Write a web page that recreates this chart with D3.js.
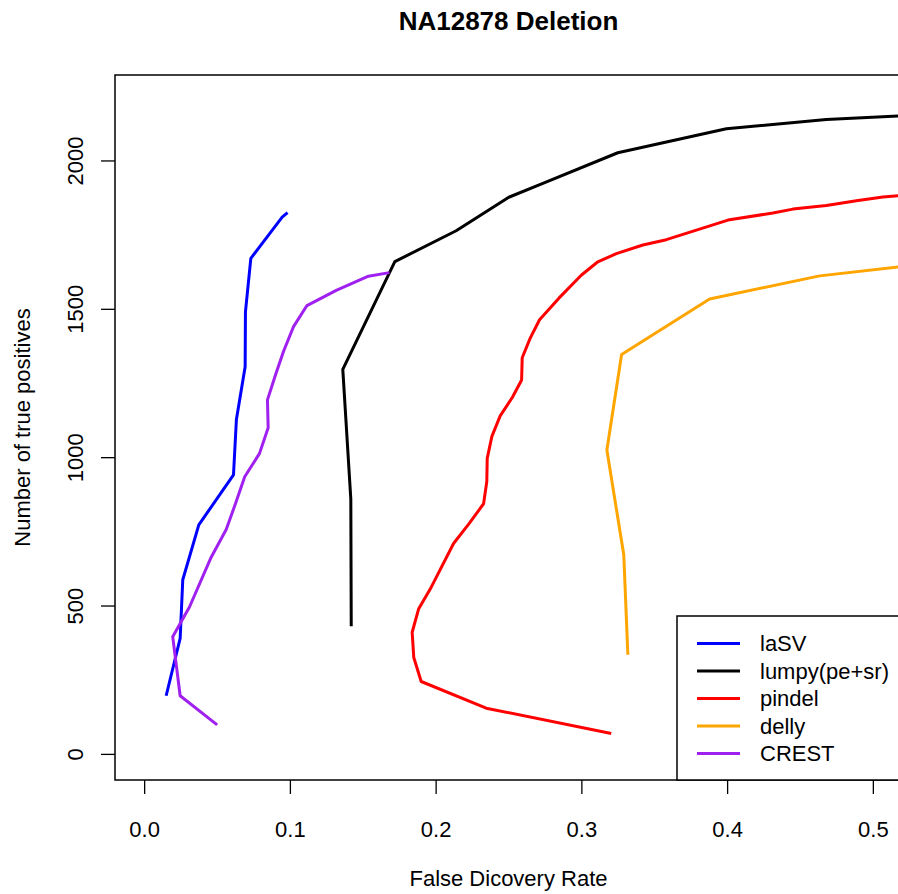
<!DOCTYPE html>
<html>
<head>
<meta charset="utf-8">
<script src="https://cdn.jsdelivr.net/npm/d3@7"></script>
<style>
  html, body { margin: 0; padding: 0; background: #fff; overflow: hidden; }
  text { font-family: "Liberation Sans", Arial, Helvetica, sans-serif; fill: #000; }
</style>
</head>
<body>
<div id="chart"></div>
<script>
// series: false discovery rate (x) vs number of true positives (y)
var laSV_fdr = [0.0151, 0.0247, 0.0265, 0.0375, 0.0613, 0.0633, 0.0693, 0.0695, 0.0732, 0.0947, 0.0984];
var laSV_tp = [196, 389, 587, 772, 940, 1127, 1305, 1490, 1670, 1809, 1824];

var lumpy_fdr = [0.1421, 0.1418, 0.1363, 0.172, 0.2141, 0.2502, 0.2736, 0.325, 0.3995, 0.4681, 0.525];
var lumpy_tp = [430, 859, 1296, 1659, 1763, 1876, 1923, 2026, 2107, 2138, 2152];

var pindel_fdr = [0.3205, 0.2347, 0.1901, 0.185, 0.1839, 0.1883, 0.197, 0.2123, 0.2228, 0.2329, 0.2351,
    0.2354, 0.2386, 0.2443, 0.2526, 0.259, 0.2594, 0.2649, 0.2713, 0.2846, 0.2999, 0.3109, 0.324,
    0.3422, 0.3583, 0.4006, 0.4314, 0.4452, 0.4681, 0.4887, 0.5069, 0.525];
var pindel_tp = [69, 154, 244, 325, 410, 488, 562, 709, 775, 843, 917,
    996, 1070, 1139, 1201, 1260, 1335, 1401, 1463, 1536, 1613, 1657, 1686,
    1715, 1733, 1799, 1823, 1836, 1848, 1864, 1877, 1884];

var delly_fdr = [0.3319, 0.3291, 0.3175, 0.3276, 0.388, 0.4635, 0.525];
var delly_tp = [334, 671, 1024, 1346, 1533, 1611, 1645];

var crest_fdr = [0.0501, 0.0247, 0.0196, 0.0311, 0.046, 0.0563, 0.0627, 0.069, 0.0791, 0.0851, 0.0846,
    0.0901, 0.0956, 0.1025, 0.1117, 0.1318, 0.1539, 0.1683];
var crest_tp = [98, 196, 395, 495, 663, 756, 844, 934, 1012, 1099, 1193,
    1277, 1356, 1440, 1511, 1562, 1610, 1622];

var seriesNames = ["laSV", "lumpy(pe+sr)", "pindel", "delly", "CREST"];
var seriesColors = ["#0000ff", "#000000", "#ff0000", "#ffa500", "#a020f0"];
var xTicks = [0, 0.1, 0.2, 0.3, 0.4, 0.5];
var yTicks = [0, 500, 1000, 1500, 2000];

var series = [
    { name: seriesNames[0], color: seriesColors[0], x: laSV_fdr, y: laSV_tp },
    { name: seriesNames[1], color: seriesColors[1], x: lumpy_fdr, y: lumpy_tp },
    { name: seriesNames[2], color: seriesColors[2], x: pindel_fdr, y: pindel_tp },
    { name: seriesNames[3], color: seriesColors[3], x: delly_fdr, y: delly_tp },
    { name: seriesNames[4], color: seriesColors[4], x: crest_fdr, y: crest_tp }
];

var W = 898, H = 894;
// plot box (right edge falls just outside the window, as in the original)
var boxL = 115, boxR = 902, boxT = 75, boxB = 780;

var svg = d3.select("#chart")
    .append("svg")
    .attr("width", W)
    .attr("height", H);

// R style: range extended 4% each side
var x = d3.scaleLinear().domain([-0.02, 0.52]).range([boxL, boxR]);
var y = d3.scaleLinear().domain([-88, 2288]).range([boxB, boxT]);

svg.append("clipPath").attr("id", "plotclip")
    .append("rect")
    .attr("x", boxL).attr("y", boxT)
    .attr("width", boxR - boxL).attr("height", boxB - boxT);

// lines
var line = d3.line()
    .x(function (d) { return x(d[0]); })
    .y(function (d) { return y(d[1]); });

var lines = svg.append("g").attr("clip-path", "url(#plotclip)");
series.forEach(function (s) {
    lines.append("path")
        .datum(d3.zip(s.x, s.y))
        .attr("d", line)
        .attr("fill", "none")
        .attr("stroke", s.color)
        .attr("stroke-width", 3)
        .attr("stroke-linejoin", "round");
});

// X axis
var xAxis = svg.append("g")
    .attr("transform", "translate(0," + boxB + ")")
    .call(d3.axisBottom(x).tickValues(xTicks).tickFormat(d3.format(".1f")).tickSize(14).tickPadding(27));
xAxis.select(".domain").remove();
xAxis.selectAll("line").attr("stroke", "#000").attr("stroke-width", 1.3);
xAxis.selectAll("text").style("font-size", "22px").attr("fill", "#000");

// Y axis
var yAxis = svg.append("g")
    .attr("transform", "translate(" + boxL + ",0)")
    .call(d3.axisLeft(y).tickValues(yTicks).tickSize(14).tickPadding(0));
yAxis.select(".domain").remove();
yAxis.selectAll("line").attr("stroke", "#000").attr("stroke-width", 1.3);
yAxis.selectAll("text").remove();
yAxis.selectAll(".tick").append("text")
    .attr("transform", "translate(-32,0) rotate(-90)")
    .attr("text-anchor", "middle")
    .style("font-size", "22px")
    .text(function (d) { return d; });

// plot box
svg.append("rect")
    .attr("x", boxL).attr("y", boxT)
    .attr("width", boxR - boxL).attr("height", boxB - boxT)
    .attr("fill", "none")
    .attr("stroke", "#000")
    .attr("stroke-width", 1.5);

// legend (bottom right)
var legX = 677, legY = 616, rowH = 27.5;
var legend = svg.append("g");
legend.append("rect")
    .attr("x", legX).attr("y", legY)
    .attr("width", boxR - legX).attr("height", boxB - legY)
    .attr("fill", "#fff")
    .attr("stroke", "#000")
    .attr("stroke-width", 1.5);
series.forEach(function (s, i) {
    var ly = legY + 27.5 + i * rowH;
    legend.append("line")
        .attr("x1", legX + 20).attr("x2", legX + 63)
        .attr("y1", ly).attr("y2", ly)
        .attr("stroke", s.color)
        .attr("stroke-width", 3);
    legend.append("text")
        .attr("x", legX + 83).attr("y", ly)
        .attr("dy", "0.35em")
        .style("font-size", "22px")
        .text(s.name);
});

// title and axis labels
svg.append("text")
    .attr("x", (boxL + boxR) / 2).attr("y", 30)
    .attr("text-anchor", "middle")
    .style("font-size", "26px")
    .style("font-weight", "bold")
    .text("NA12878 Deletion");

svg.append("text")
    .attr("x", (boxL + boxR) / 2).attr("y", 886)
    .attr("text-anchor", "middle")
    .style("font-size", "22px")
    .text("False Dicovery Rate");

svg.append("text")
    .attr("transform", "translate(30," + (boxT + boxB) / 2 + ") rotate(-90)")
    .attr("text-anchor", "middle")
    .style("font-size", "22px")
    .text("Number of true positives");
</script>
</body>
</html>
